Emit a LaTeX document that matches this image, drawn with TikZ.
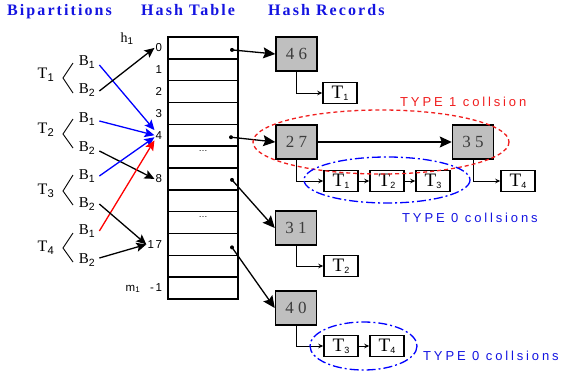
\documentclass[tikz,border=0pt]{standalone}
\usepackage{fontspec}
\setmainfont{Liberation Serif}
\setsansfont{Liberation Sans}
\newfontfamily\titlefont[LetterSpace=13]{Liberation Serif}
\newfontfamily\numfont[LetterSpace=24]{Liberation Serif}
\newfontfamily\typefont[LetterSpace=22]{Liberation Sans}
\newfontfamily\lblfont[LetterSpace=15]{Liberation Sans}
\usetikzlibrary{arrows.meta}
\definecolor{tblue}{RGB}{20,20,225}
\definecolor{tred}{RGB}{240,30,30}
\definecolor{numgray}{RGB}{60,60,60}
\newcommand\ssub[1]{\textsubscript{\sffamily #1}}
\newcommand\tsub[1]{\raisebox{-2pt}{\sffamily\fontsize{9}{9}\selectfont #1}}
\begin{document}
\begin{tikzpicture}[x=1pt,y=-1pt,
  title/.style={font=\titlefont\bfseries\fontsize{16}{18}\selectfont, text=tblue, anchor=base west, inner sep=0},
  rowbox/.style={draw, line width=1.5pt, minimum width=70pt, minimum height=21.83pt, inner sep=0},
  lbl/.style={font=\lblfont\fontsize{11.5}{11.5}\selectfont, anchor=east, inner sep=1pt},
  tl/.style={font=\fontsize{16}{16}\selectfont, inner sep=1pt},
  bl/.style={font=\fontsize{15}{15}\selectfont, inner sep=1pt},
  gbox/.style={draw, line width=1.5pt, fill=gray!50, minimum width=41pt, minimum height=34pt, inner sep=0, font=\numfont\fontsize{17}{17}\selectfont, text=numgray},
  tbox/.style={draw, line width=1.5pt, fill=white, minimum width=34pt, minimum height=21pt, inner sep=0, font=\fontsize{19}{19}\selectfont},
  bigarrow/.style={-{Stealth[length=12pt,width=11pt,inset=2pt]}, line width=1.3pt},
  lefta/.style={-{Stealth[length=10pt,width=9pt,inset=2pt]}, line width=1.3pt},
  smalla/.style={-{Stealth[length=5pt,width=4.5pt]}, line width=1pt},
  typel/.style={font=\typefont\fontsize{13}{13}\selectfont, anchor=base west, inner sep=0},
  dotsl/.style={font=\sffamily\fontsize{9}{9}\selectfont, inner sep=0},
  coll0/.style={blue, line width=1.3pt, dash pattern=on 9pt off 3pt on 2pt off 3pt},
  coll1/.style={tred, line width=1.3pt, dash pattern=on 4pt off 3pt}
]
\useasboundingbox (0,0) rectangle (561,372);

% headers
\node[title] (hb) at (7,16) {Bipartitions};
\node[title] (ht) at (141,16) {Hash Table};
\node[title] (hr) at (268,16) {Hash Records};

% hash table rows
\foreach \i in {0,...,11}
  \node[rowbox] (r\i) at (203,{37+21.83*(\i+0.5)}) {};

\node[font=\fontsize{14}{14}\selectfont, inner sep=0] (hh) at (127,39) {h\ssub{1}};
\node[lbl] (l0) at ([xshift=-4pt]r0.west) {0};
\node[lbl] (l1) at ([xshift=-4pt]r1.west) {1};
\node[lbl] (l2) at ([xshift=-4pt]r2.west) {2};
\node[lbl] (l3) at ([xshift=-4pt]r3.west) {3};
\node[lbl] (l4) at ([xshift=-4pt]r4.west) {4};
\node[lbl] (l8) at ([xshift=-4pt]r6.west) {8};
\node[lbl] (l17) at ([xshift=-4pt]r9.west) {17};
\node[lbl] (lm) at ([xshift=-4pt]r11.west) {m\textsubscript{1}\ \ -1};
\node[dotsl, yshift=6pt] (dt5) at (r5) {\dots};
\node[dotsl, yshift=6pt] (dt8) at (r8) {\dots};

% pointer dots
\fill (r0.center) ++(29,2) coordinate (d0) circle (2);
\fill (r4.center) ++(28,2) coordinate (d4) circle (2);
\fill (r6.center) ++(29,1) coordinate (d6) circle (2);
\fill (r9.center) ++(29,3) coordinate (d9) circle (2);

% left bipartitions
\node[tl] (T1) at (46,75) {T\ssub{1}};
\node[tl] (T2) at (46,130) {T\ssub{2}};
\node[tl] (T3) at (46,191) {T\ssub{3}};
\node[tl] (T4) at (46,248) {T\ssub{4}};
\node[bl] (b11) at (87,62) {B\ssub{1}};
\node[bl] (b12) at (87,90) {B\ssub{2}};
\node[bl] (b21) at (87,119) {B\ssub{1}};
\node[bl] (b22) at (87,148) {B\ssub{2}};
\node[bl] (b31) at (87,176) {B\ssub{1}};
\node[bl] (b32) at (87,204) {B\ssub{2}};
\node[bl] (b41) at (87,231) {B\ssub{1}};
\node[bl] (b42) at (87,260) {B\ssub{2}};
\draw[line width=0.9pt] (73,63) -- (63,78) -- (73,93);
\draw[line width=0.9pt] (73,119) -- (63,134) -- (73,148);
\draw[line width=0.9pt] (73,175) -- (63,191) -- (73,205);
\draw[line width=0.9pt] (73,233) -- (63,248) -- (73,262);

\draw[lefta, blue] ([shift={(3,3)}]b11.east) -- (l4.north west);
\draw[lefta] ([shift={(3,1)}]b12.east) -- (l0.west);
\draw[lefta, blue] ([shift={(3,2)}]b21.east) -- (l4.west);
\draw[lefta] ([shift={(3,3)}]b22.east) -- (l8.west);
\draw[lefta, blue] ([shift={(3,0)}]b31.east) -- ([yshift=-2pt]l4.west);
\draw[lefta, red] ([shift={(3,0)}]b41.east) -- (l4.south west);
\draw[lefta] ([shift={(3,0)}]b32.east) -- (l17.west);
\draw[lefta] ([shift={(3,-2)}]b42.east) -- (l17.west);

% hash records
\node[gbox] (g46) at (296.5,54) {46};
\node[gbox] (g27) at (296.5,142) {27};
\node[gbox] (g35) at (473,142) {35};
\node[gbox] (g31) at (296,228) {31};
\node[gbox] (g40) at (296,308) {40};

\node[tbox] (t46) at (340,93) {T\tsub{1}};
\node[tbox] (c1) at (341,181) {T\tsub{1}};
\node[tbox] (c2) at (387,181) {T\tsub{2}};
\node[tbox] (c3) at (433,181) {T\tsub{3}};
\node[tbox] (c4) at (518,181) {T\tsub{4}};
\node[tbox] (t31) at (341,266) {T\tsub{2}};
\node[tbox] (e1) at (341,346) {T\tsub{3}};
\node[tbox] (e2) at (387,346) {T\tsub{4}};

\draw[bigarrow] (d0) -- (g46.west);
\draw[bigarrow] (d4) -- (g27.west);
\draw[bigarrow] (d6) -- (g31.west);
\draw[bigarrow] (d9) -- (g40.west);
\draw[bigarrow] (g27) -- (g35);

\draw[smalla] (g46.south) |- (t46.west);
\draw[smalla] (g27.south) |- (c1.west);
\draw[smalla] (c1) -- (c2);
\draw[smalla] (c2) -- (c3);
\draw[smalla] (g35.south) |- (c4.west);
\draw[smalla] (g31.south) |- (t31.west);
\draw[smalla] (g40.south) |- (e1.west);
\draw[smalla] (e1) -- (e2);

% collision ellipses
\draw[coll1] (381,142) ellipse [x radius=128, y radius=32];
\draw[coll0] (387,180) ellipse [x radius=83, y radius=23];
\draw[coll0] (363.5,346) ellipse [x radius=53.5, y radius=24];

\node[typel, text=tred] (ty1) at (400,106) {TYPE 1 collsion};
\node[typel, text=tblue] (ty0a) at (402,222) {TYPE 0 collsions};
\node[typel, text=tblue] (ty0b) at (423,360) {TYPE 0 collsions};
\end{tikzpicture}
\end{document}
